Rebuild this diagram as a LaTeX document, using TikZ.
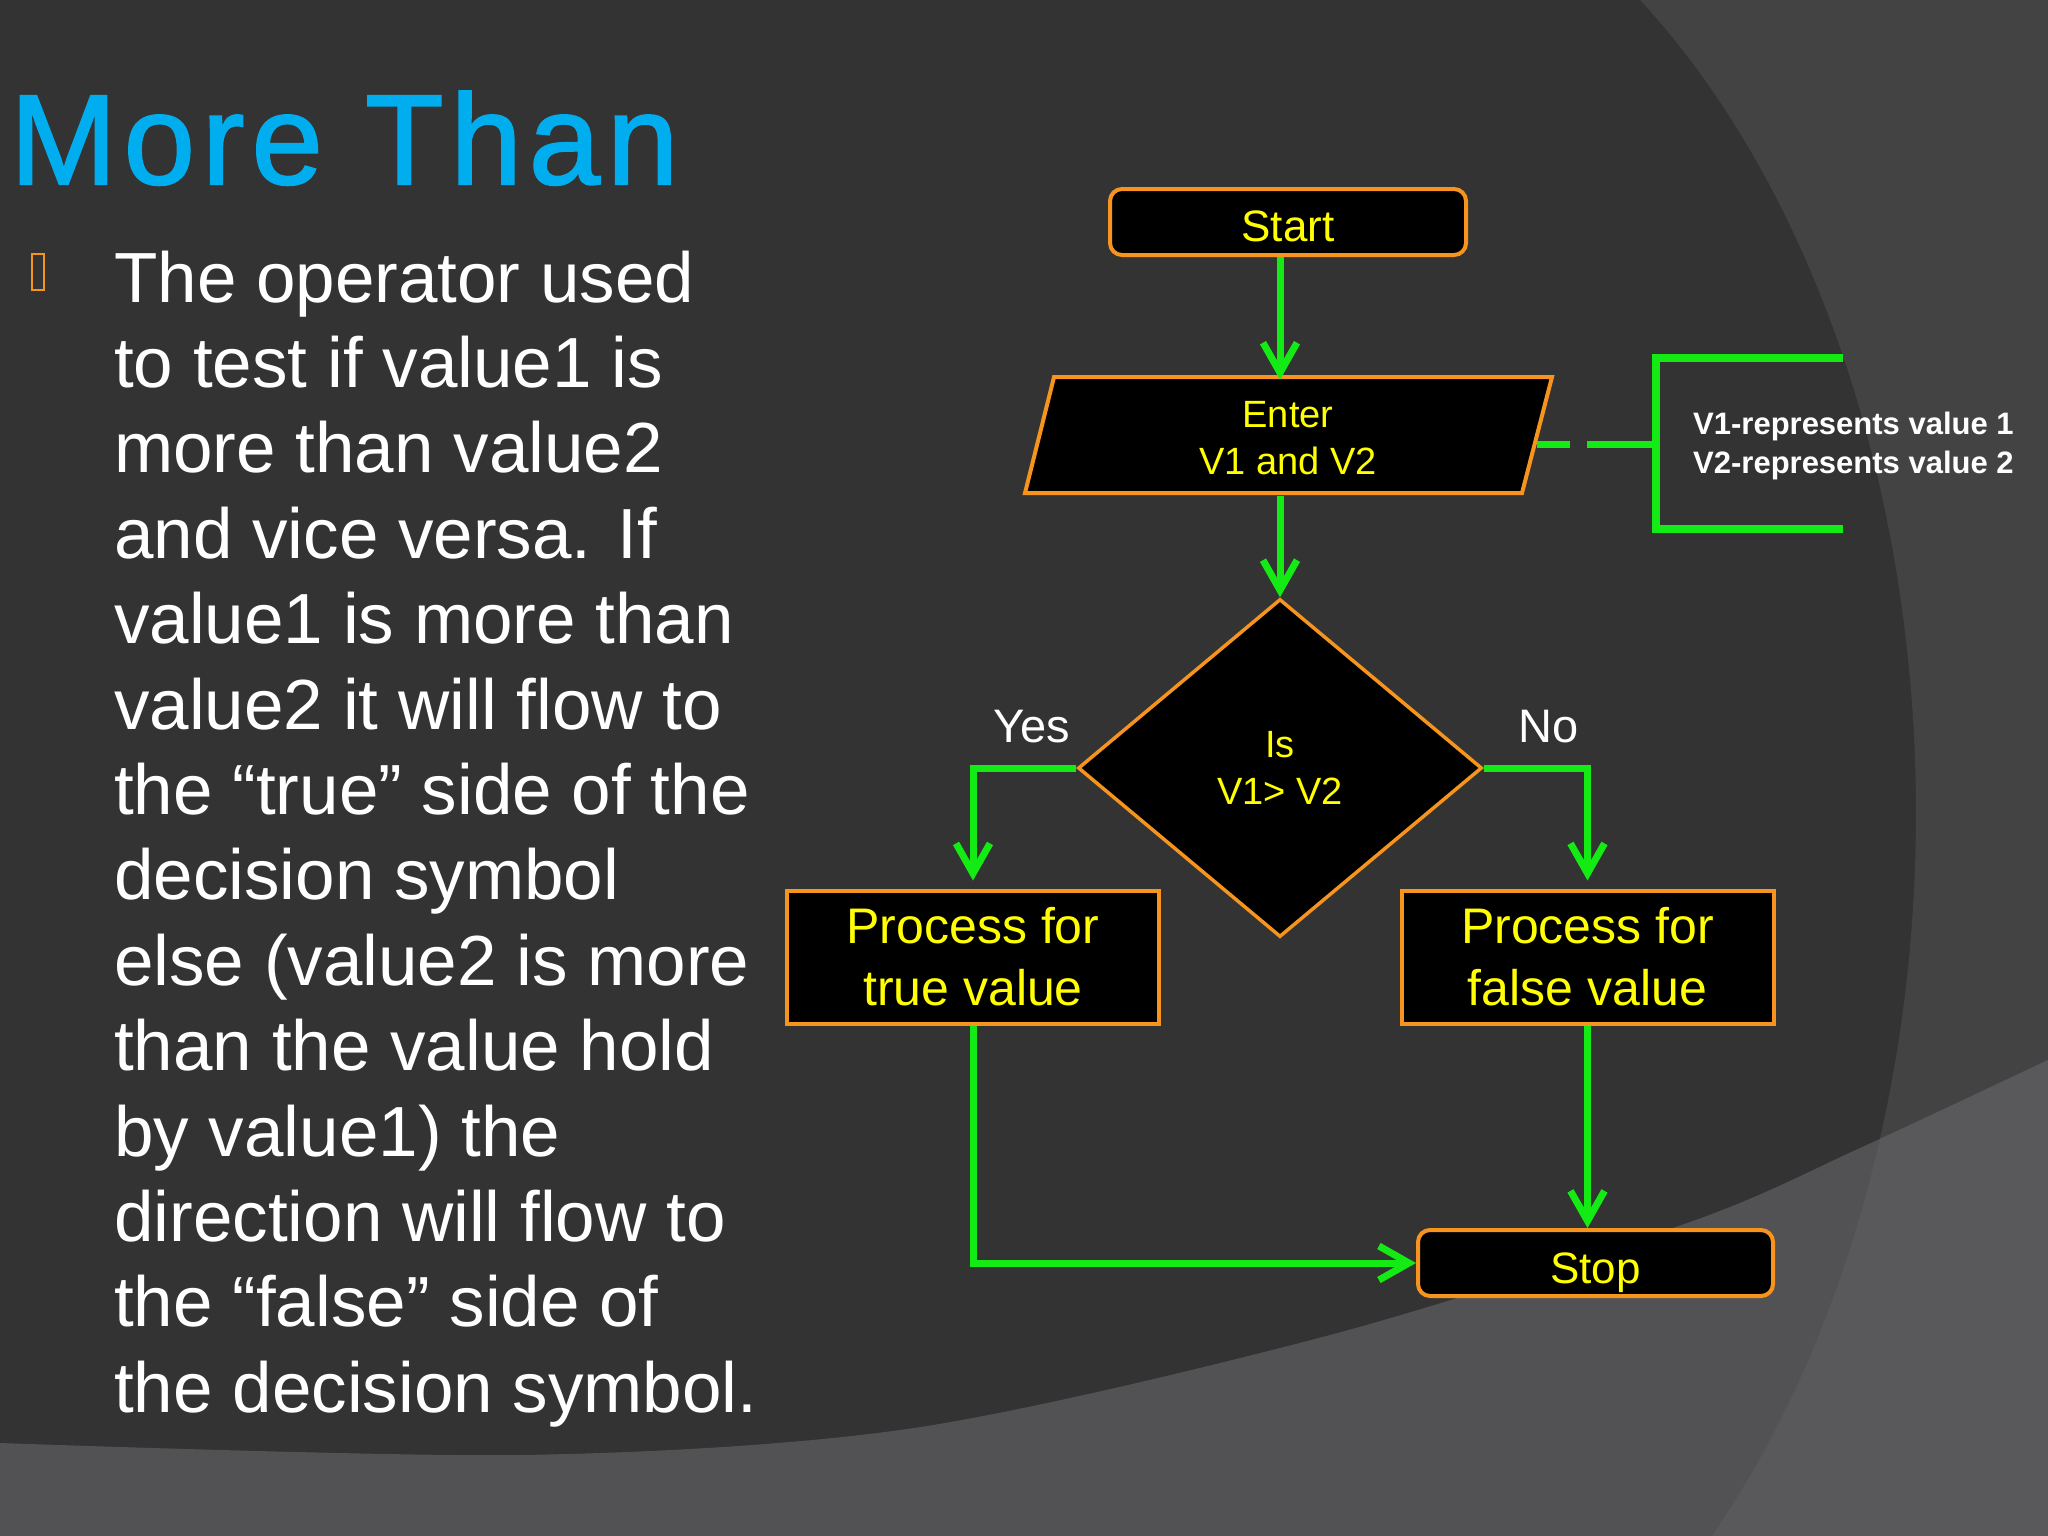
\documentclass[tikz,border=0pt]{standalone}
\usepackage{fontspec}
\setmainfont{Liberation Sans}
\newfontfamily\titlefont[LetterSpace=5.5,FakeBold=1.6]{Liberation Sans}
\usetikzlibrary{arrows.meta,shapes.geometric,calc}
\definecolor{bgdark}{HTML}{333333}
\definecolor{bgmid}{HTML}{434344}
\definecolor{bglow}{HTML}{525254}
\definecolor{bglowr}{HTML}{59595B}
\definecolor{ttl}{RGB}{0,174,239}
\definecolor{orng}{RGB}{247,148,29}
\definecolor{grn}{RGB}{20,235,20}
\definecolor{ylw}{RGB}{255,255,0}
\begin{document}
\begin{tikzpicture}[x=1pt,y=-1pt,
  box/.style={draw=orng,line width=4pt,fill=black,text=ylw,inner sep=0pt,align=center},
  flow/.style={draw=grn,line width=7pt,-{Straight Barb[length=30pt,width=34pt]}},
  bodytext/.style={anchor=base west,inner sep=0pt,text=white,font=\fontsize{71}{85}\selectfont},
  lbl/.style={inner sep=0pt,text=white,font=\fontsize{47}{55}\selectfont},
  notetext/.style={anchor=base west,inner sep=0pt,text=white,font=\bfseries\fontsize{31}{39}\selectfont}]
\useasboundingbox (0,0) rectangle (2048,1536);
% background
\fill[bgdark] (0,0) rectangle (2048,1536);
\fill[bgmid] (1640,0) -- plot[domain=-54.4:46.3,samples=80,variable=\a] ({1256+660*cos(\a)},{813+1000*sin(\a)}) -- (2048,1536) -- (2048,0) -- cycle;
\begin{scope}
  \clip plot[smooth] coordinates {(0,1443) (522,1455) (914,1428) (1330,1335) (1690,1222) (1860,1148) (2048,1060)} -- (2048,1536) -- (0,1536) -- cycle;
  \fill[bglow] (0,0) rectangle (2048,1536);
  \fill[bglowr] (1640,0) -- plot[domain=-54.4:46.3,samples=80,variable=\a] ({1256+660*cos(\a)},{813+1000*sin(\a)}) -- (2048,1536) -- (2048,0) -- cycle;
\end{scope}
% title
\node[anchor=base west,inner sep=0pt,text=ttl,font=\titlefont\fontsize{128}{150}\selectfont] (title) at (10,184) {More Than};
% bullet
\node[draw=orng,line width=2.5pt,minimum width=12pt,minimum height=36pt,inner sep=0pt] (bullet) at (38,272) {};
% body
\foreach \t [count=\i from 0] in {The operator used,to test if value1 is,more than value2,and vice versa. If,value1 is more than,value2 it will flow to,the “true” side of the,decision symbol,else (value2 is more,than the value hold,by value1) the,direction will flow to,the “false” side of,the decision symbol.}
  \node[bodytext] (t\i) at (114,{302+85.4*\i}) {\t};
% flowchart
\node[box,rounded corners=12pt,minimum width=356pt,minimum height=66pt,text height=38pt,text depth=0pt,font=\fontsize{44}{50}\selectfont] (start) at (1288,222) {Start};
\draw[orng,line width=4pt,fill=black] (1054,377) -- (1552,377) -- (1522,493) -- (1025,493) -- cycle;
\node[inner sep=0pt,text=ylw,align=center,minimum width=470pt,minimum height=116pt,font=\fontsize{38}{47}\selectfont] (enter) at (1288,438) {Enter\\V1 and V2};
\node[diamond,draw=orng,line width=3.5pt,fill=black,minimum width=404pt,minimum height=338pt,inner sep=0pt,text=ylw,align=center,font=\fontsize{38}{47}\selectfont] (dec) at (1280,768) {Is\\V1> V2};
\node[box,minimum width=372pt,minimum height=133pt,font=\fontsize{50}{62}\selectfont] (ptrue) at (973,957) {Process for\\true value};
\node[box,minimum width=372pt,minimum height=133pt,font=\fontsize{50}{62}\selectfont] (pfalse) at (1587.5,957) {Process for\\false value};
\node[box,rounded corners=12pt,minimum width=355pt,minimum height=66pt,text height=40pt,text depth=0pt,font=\fontsize{44}{50}\selectfont] (stop) at (1595.5,1263) {Stop};
\node[lbl] (yes) at (1032,727) {Yes};
\node[lbl] (no) at (1549,727) {No};
% note
\coordinate (pedge) at (1537,444);
\coordinate (brk) at (1656,444);
\draw[grn,line width=7pt,dash pattern=on 33pt off 17pt on 300pt] (pedge) -- (brk);
\draw[grn,line width=8pt] (1843,358) -- (1656,358) -- (1656,529) -- (1843,529);
\node[notetext] (note1) at (1693,434) {V1-represents value 1};
\node[notetext] (note2) at (1693,473) {V2-represents value 2};
% connectors
\draw[flow] (start.south -| dec.north) -- (enter.north -| dec.north);
\draw[flow] (enter.south -| dec.north) -- (dec.north);
\draw[flow,shorten >=8pt] (dec.west) -| (ptrue.north);
\draw[flow,shorten >=8pt] (dec.east) -| (pfalse.north);
\draw[flow] (ptrue.south) |- (stop.west);
\draw[flow] (pfalse.south) -- (pfalse.south |- stop.north);
\end{tikzpicture}
\end{document}
